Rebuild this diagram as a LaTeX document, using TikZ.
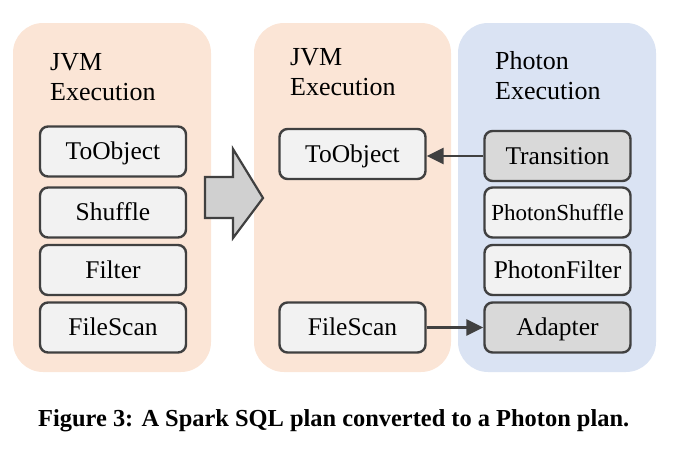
\documentclass[tikz,border=0pt]{standalone}
\usepackage{fontspec}
\setmainfont{Liberation Serif}
\newfontfamily\tnr{Liberation Serif}
\usetikzlibrary{arrows.meta}
\definecolor{peach}{HTML}{FBE5D6}
\definecolor{lblue}{HTML}{DAE3F3}
\definecolor{edge}{HTML}{404040}
\definecolor{boxlight}{HTML}{F2F2F2}
\definecolor{boxdark}{HTML}{D9D9D9}
\definecolor{bigarrow}{HTML}{D0D0D0}
\begin{document}
\begin{tikzpicture}[x=1pt,y=-1pt,
  panel/.style={rounded corners=30pt},
  op/.style={draw=edge,line width=2.4pt,rounded corners=8pt,fill=boxlight,
    minimum width=146pt,minimum height=50pt,inner sep=0pt,
    text height=21pt,text depth=5pt,
    font=\tnr\fontsize{25.5}{30}\selectfont},
  opdark/.style={op,fill=boxdark},
  header/.style={anchor=north west,align=left,inner sep=0pt,
    font=\tnr\fontsize{26}{30}\selectfont},
  link/.style={draw=edge,line width=2.6pt,-{Triangle[length=17pt,width=16pt]}}]
\useasboundingbox (0,0) rectangle (682,458);
% panels
\fill[peach,panel] (13,23) rectangle (211,372);
\fill[peach,panel] (254,23) rectangle (451,372);
\fill[lblue,panel] (458,23) rectangle (656,372);
% headers
\node[header] (h1) at (50,53) {JVM\\Execution};
\node[header] (h2) at (290,48) {JVM\\Execution};
\node[header] (h3) at (495,51) {Photon\\Execution};
% left column
\node[op] (lto) at (113,151.5) {ToObject};
\node[op] (lsh) at (113,212.5) {Shuffle};
\node[op] (lfi) at (113,270) {Filter};
\node[op] (lfs) at (113,327.5) {FileScan};
% big arrow
\draw[edge,line width=2.2pt,fill=bigarrow,line join=miter]
  (205,177) -- (233,177) -- (233,149) -- (263,198) -- (233,238) -- (233,218) -- (205,218) -- cycle;
% middle column
\node[op] (mto) at (352.5,154) {ToObject};
\node[op] (mfs) at (352.5,327.5) {FileScan};
% right column
\node[opdark] (tr) at (557.5,156) {Transition};
\node[op,font=\tnr\fontsize{23}{26}\selectfont] (psh) at (557.5,212.5) {PhotonShuffle};
\node[op] (pfi) at (557.5,270) {PhotonFilter};
\node[opdark] (ad) at (557.5,327.5) {Adapter};
% connectors
\draw[link] (tr.west) -- (tr.west -| mto.east);
\draw[link] (mfs.east) -- (mfs.east -| ad.west);
% caption
\node[inner sep=0pt,anchor=base west,font=\tnr\bfseries\fontsize{21}{24}\selectfont] (cap) at (38,426)
  {\resizebox{591pt}{!}{Figure 3: A Spark SQL plan converted to a Photon plan.}};
\end{tikzpicture}
\end{document}
